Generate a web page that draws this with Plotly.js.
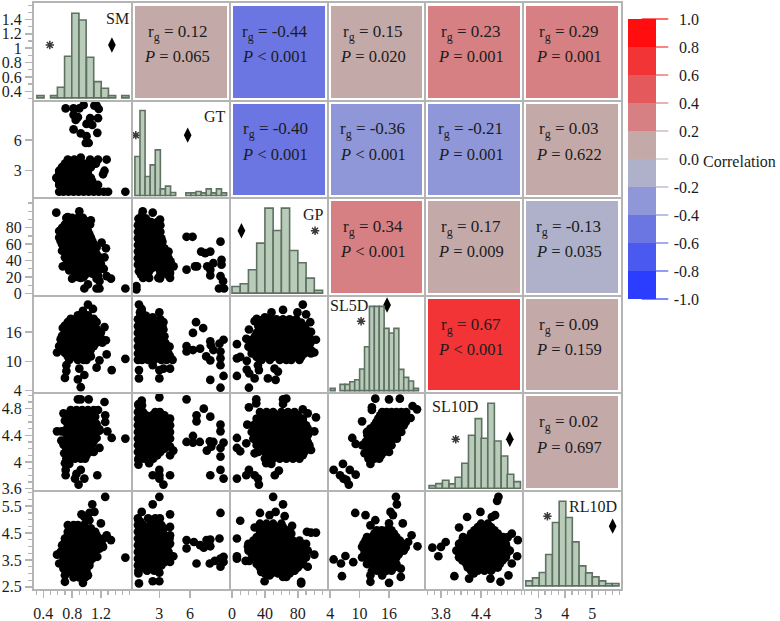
<!DOCTYPE html>
<html><head><meta charset="utf-8">
<script src="https://cdn.plot.ly/plotly-3.0.1.min.js"></script>
<style>html,body{margin:0;padding:0;background:#fff}</style></head>
<body><div id="chart" style="width:780px;height:621px"></div>
<script>
const variables = ['SM','GT','GP','SL5D','SL10D','RL10D'];
const rgValues = [[null,0.12,-0.44,0.15,0.23,0.29],[null,null,-0.401,-0.36,-0.21,0.03],[null,null,null,0.34,0.17,-0.13],[null,null,null,null,0.67,0.09],[null,null,null,null,null,0.02]];
const pLabels = [[null,'= 0.065','< 0.001','= 0.020','= 0.001','= 0.001'],[null,null,'< 0.001','< 0.001','= 0.001','= 0.622'],[null,null,null,'< 0.001','= 0.009','= 0.035'],[null,null,null,null,'< 0.001','= 0.159'],[null,null,null,null,null,'= 0.697']];
const bandColors = ['#2b3dff','#4a59f0','#6b76e3','#8f97d9','#aeb1c9','#c4a9a9','#d68083','#e45a5c','#f23437','#ff0d0f'];
const cbTicks = [1,0.8,0.6,0.4,0.2,0,-0.2,-0.4,-0.6,-0.8,-1];
const cbTickColors = ['#ff1010','#f23437','#e45a5c','#d68083','#c4a9a9','#c4c0c4','#aeb1c9','#8f97d9','#6b76e3','#4a59f0','#2b3dff'];

const axisRanges = [[0.27,1.63],[0.3,9.9],[-2.8,116],[3.45,23.4],[3.565,5.03],[2.44,6.07]];
const xTicks = [[0.4,0.8,1.2],[3,6],[0,40,80],[4,10,16],[3.8,4.4],[3,4,5]];
const xTickText = [['0.4','0.8','1.2'],['3','6'],['0','40','80'],['4','10','16'],['3.8','4.4'],['3','4','5']];
const yTicks = [[0.4,0.6,0.8,1,1.2,1.4],[3,6],[0,20,40,60,80],[4,10,16],[3.6,4,4.4,4.8],[2.5,3.5,4.5,5.5]];
const yTickText = [['0.4','0.6','0.8','1','1.2','1.4'],['3','6'],['0','20','40','60','80'],['4','10','16'],['3.6','4','4.4','4.8'],['2.5','3.5','4.5','5.5']];
const minorSteps = [0.1,null,10,null,0.1,0.25];

const histCenters = [
 [0.36,0.55,0.645,0.745,0.845,0.945,1.05,1.155,1.255,1.355,1.54],
 [0.85,1.35,1.85,2.35,2.85,3.35,3.85,4.35,5.85,6.35,6.85,7.35,7.85,8.35,8.85,9.35],
 [5,15,25,35,45,55,65,75,85,95,105],
 [4.5,6.5,7.5,8.5,9.5,10.5,11.5,12.5,13.5,14.5,15.5,16.5,17.5,18.5,19.5,20.5,21.5],
 [3.67,3.77,3.87,3.97,4.06,4.16,4.26,4.36,4.45,4.55,4.65,4.75,4.84,4.94],
 [2.66,2.91,3.16,3.40,3.65,3.90,4.14,4.39,4.64,4.88,5.13,5.38,5.62,5.87]];
const histHeights = [
 [7,7,32,125,254,234,122,49,29,7,7],
 [117,255,57,92,137,20,28,9,8,8,12,8,20,8,20,8],
 [20,28,70,150,255,188,255,128,91,45,8],
 [7,19,19,27,33,65,132,253,253,253,187,173,187,64,40,29,7],
 [8,14,24,13,33,75,159,209,150,255,142,97,42,20],
 [15,24,40,94,190,254,205,132,60,39,27,15,7,7]];
const histWidths = [0.1,0.5,10,1,0.098,0.247];

const asteriskPts = [[0.49,1.044],[0.69,6.5],[100.9,76.4],[10.3,18.2],[4.02,4.34],[3.34,5.13]];
const diamondPts = [[1.353,1.044],[5.78,6.5],[11.5,76.4],[15.6,21.5],[4.83,4.34],[5.76,4.76]];

const rows = list => list.flatMap(([y,xs]) => xs.map(x => [x,y]));

const GT_SM = [[.71,9.13],[.82,9.13],[.9,9.13],[.96,9.47],[1.11,9.4],[1.17,9.07],[1.14,9.4],[.82,8.5],[.88,8.27],[.85,8],[1.05,8.17],[1.16,8.17],[1,7.6],[1.08,7.5],[.82,7.07],[.92,6.67],[1,6.4],[1.15,6.73],[.99,5.73],[1.03,5.73],
[.62,.93],[.68,.93],[.75,.93],[.82,.93],[.89,.93],[.96,.93],[1.03,.93],[1.1,.93],[1.17,.93],[1.24,.93],[1.3,.93],[1.54,.93],
[.62,1.6],[.7,1.6],[.78,1.6],[.86,1.6],[.94,1.6],[1.02,1.6],[1.1,1.6],[1.16,1.6],
[.58,2.3],[.66,2.3],[.74,2.3],[.82,2.3],[.9,2.3],[.98,2.3],[1.06,2.3],[1.23,2.65],
[.62,3],[.7,3],[.78,3],[.86,3],[.94,3],[1.02,3],[1.25,3],
[.7,3.7],[.8,3.7],[.88,3.7],[.96,3.7],[1.04,3.7],[1.13,3.7],
[.74,4.1],[.83,4.1],[.92,4.3],[1.05,4.1],[1.16,4.1],[1.28,4.1],
...rows([[1.27,[.66,.74,.82,.9,.98,1.06,1.12]],[1.95,[.62,.7,.78,.86,.94,1.02,1.08]],[2.65,[.62,.7,.78,.86,.94,1.02]],[3.35,[.66,.74,.82,.9,.98,1.06]]])];
const GP_SM = [[.58,98.4],[.9,100],[.74,93],[1.06,89],
[.72,92],[.8,92],[.88,92],[.95,92],
[.7,84],[.76,84],[.84,84],[.92,84],[1,84],[1.05,84],
[.62,76],[.7,76],[.78,76],[.86,76],[.94,76],[1.02,76],
[.62,68],[.68,68],[.76,68],[.84,68],[.92,68],[1,68],[1.06,68],
[.66,60],[.72,60],[.8,60],[.88,60],[.96,60],[1.04,60],[1.1,60],[1.21,62],
[.66,52],[.72,52],[.8,52],[.88,52],[.96,52],[1.04,52],[1.1,52],[1.27,55],
[.7,44],[.78,44],[.86,44],[.94,44],[1.02,44],[1.1,44],[1.18,44],[1.25,44],
[.67,33],[.72,36],[.8,36],[.88,36],[.96,36],[1.04,36],[1.12,36],[1.2,36],
[.76,28],[.84,28],[.92,28],[1,28],[1.08,28],[1.16,28],
[.8,18],[.88,20],[.96,20],[.92,19],
[1.24,30],[1.16,22],[1.14,18],[1.28,21],[1.34,18],[1.18,15],[1.02,11],[.97,6],[1.14,6],[1.18,6],[1.54,6],
...rows([[88,[.76,.84,.92,.99]],[80,[.66,.74,.82,.9,.98]],[72,[.66,.72,.8,.88,.96,1.04]],[64,[.64,.7,.78,.86,.94,1.02,1.08]],[56,[.68,.76,.84,.92,1,1.08,1.14]],[48,[.72,.82,.9,.98,1.06,1.14]],[40,[.74,.82,.9,.98,1.06,1.14]],[32,[.78,.86,.94,1.02,1.1]],[24,[.84,.92,1,1.08]]])];
const SL5D_SM = [[1.02,21.6],[.95,20.3],[1.09,20.7],[.67,16.8],[1.25,17],[1.27,14.3],[.59,11.8],[1.28,11.4],[1.54,10.5],[1.35,8.2],[1.18,10.2],[1.14,8.7],[.72,9.2],[.7,6.6],[.72,8],[.88,6.3],[.97,7.2],[.92,4.7],[.9,8.5],
[.88,19.4],[.96,19.4],[1.02,19.4],
[.78,18.7],[.86,18.7],[.94,18.7],[1.02,18.7],[1.1,18.7],
[.74,18],[.82,18],[.9,18],[.98,18],[1.06,18],[1.14,18],
[.7,17.3],[.78,17.3],[.86,17.3],[.94,17.3],[1.02,17.3],[1.1,17.3],
[.74,16.6],[.82,16.6],[.9,16.6],[.98,16.6],[1.06,16.6],[1.14,16.6],
[.7,15.9],[.78,15.9],[.86,15.9],[.94,15.9],[1.02,15.9],[1.1,15.9],[1.2,15.9],
[.66,15.2],[.74,15.2],[.82,15.2],[.9,15.2],[.98,15.2],[1.06,15.2],[1.14,15.2],
[.64,14.5],[.72,14.5],[.8,14.5],[.88,14.5],[.96,14.5],[1.04,14.5],[1.12,14.5],[1.22,14.5],
[.66,13.8],[.74,13.8],[.82,13.8],[.9,13.8],[.98,13.8],[1.06,13.8],[1.14,13.8],[1.22,13.8],
[.62,13.1],[.7,13.1],[.78,13.1],[.86,13.1],[.94,13.1],[1.02,13.1],[1.1,13.1],
[.66,12.4],[.74,12.4],[.82,12.4],[.9,12.4],[.98,12.4],[1.06,12.4],
[.7,11.7],[.78,11.7],[.86,11.7],[.94,11.7],[1.02,11.7],
[.74,11],[.82,11],[.9,11],[.98,11],[1.06,11],
[.76,10.3],[.88,10.3],[.96,10.3],[1,10.3]];
const SL10D_SM = [[.88,4.94],[.92,4.94],[1.03,4.94],[1.25,4.9],[.68,4.73],[1.26,4.7],[1.26,4.6],[.59,4.46],[.65,4.46],[1.29,4.46],[1.35,4.36],[1.54,4.35],[1.18,4.49],[.65,4.32],[.7,3.98],[.76,3.97],[.71,3.88],[.71,3.8],[.92,3.88],[.86,3.82],[1.15,3.8],[.84,3.75],[.97,3.75],[.89,3.66],[1.18,4.21],[.69,4.13],
[.78,4.78],[.86,4.78],[.94,4.78],[1.02,4.78],[1.1,4.78],[1.16,4.78],
[.72,4.68],[.8,4.68],[.88,4.68],[.96,4.68],[1.04,4.68],[1.12,4.68],
[.74,4.57],[.82,4.57],[.9,4.57],[.98,4.57],[1.06,4.57],[1.14,4.57],
[.7,4.47],[.78,4.47],[.86,4.47],[.94,4.47],[1.02,4.47],[1.1,4.47],[1.18,4.47],
[.74,4.36],[.82,4.36],[.9,4.36],[.98,4.36],[1.06,4.36],[1.14,4.36],
[.68,4.26],[.76,4.26],[.84,4.26],[.92,4.26],[1,4.26],[1.08,4.26],
[.72,4.15],[.8,4.15],[.88,4.15],[.96,4.15],[1.04,4.15],[1.1,4.15],
[.72,4.05],[.78,4.05],[.84,4.05],[.92,4.05],[.98,4.05],
...rows([[4.73,[.76,.84,.92,1,1.08]],[4.62,[.7,.78,.86,.94,1.02,1.1]],[4.52,[.74,.82,.9,.98,1.06,1.14]],[4.42,[.72,.8,.88,.96,1.04,1.12]],[4.31,[.72,.8,.88,.96,1.04,1.1]],[4.2,[.72,.8,.88,.96,1.04]],[4.1,[.76,.84,.92,1]]])];
const RL10D_SM = [[1.26,5.85],[1.08,5.57],[.93,5.2],[1.04,5.25],[1.11,5.29],[.97,5.1],[1.2,4.86],[1.04,4.98],[1.28,4.42],[1.34,4.24],[.59,3.7],[.62,3.37],[.68,3.18],[.7,2.93],[.7,2.69],[.95,2.65],[1.02,2.93],[1.54,3.59],[1.15,3.62],[1.23,3.99],
[.74,4.8],[.82,4.8],[.88,4.8],[.96,4.8],
[.74,4.55],[.8,4.55],[.88,4.55],[.96,4.55],[1.04,4.55],[1.12,4.55],
[.7,4.3],[.78,4.3],[.86,4.3],[.94,4.3],[1.02,4.3],[1.1,4.3],[1.18,4.3],[1.24,4.3],
[.66,4.05],[.74,4.05],[.82,4.05],[.9,4.05],[.98,4.05],[1.06,4.05],[1.14,4.05],[1.22,4.05],
[.64,3.8],[.72,3.8],[.8,3.8],[.88,3.8],[.96,3.8],[1.04,3.8],[1.12,3.8],
[.68,3.55],[.76,3.55],[.84,3.55],[.92,3.55],[1,3.55],[1.08,3.55],
[.72,3.3],[.8,3.3],[.88,3.3],[.96,3.3],[1.04,3.3],
[.78,3.05],[.86,3.05],[.94,3.05],[1,3.05],
[.82,2.85],[.9,2.85],[.98,2.85],
...rows([[4.68,[.78,.84,.92,1,1.06]],[4.42,[.74,.82,.9,.98,1.06,1.14]],[4.18,[.7,.78,.86,.94,1.02,1.1,1.18]],[3.92,[.7,.78,.86,.94,1.02,1.1,1.18]],[3.68,[.68,.76,.84,.92,1,1.08]],[3.42,[.72,.8,.88,.96,1.04]],[3.18,[.76,.84,.92,1]],[2.95,[.82,.9,.98]]])];
const GP_GT = [[1.37,100],[2.35,98.4],[3.07,90],
[1.3,95],[.95,91],[1.3,91],[1.7,91],
[.9,83],[1.3,83],[1.9,83],[2.5,83],[3.1,83],
[.9,75],[1.4,75],[2,75],[2.6,75],[3.1,75],
[.9,67],[1.3,67],[1.9,67],[2.5,67],[3.2,67],
[.9,59],[1.4,59],[2,59],[2.6,59],[3.2,59],
[.9,51],[1.3,51],[1.9,51],[2.5,51],[3.1,51],[3.9,51],
[.9,43],[1.4,43],[2,43],[2.6,43],[3.2,43],[3.9,43],
[.9,35],[1.3,35],[1.9,35],[2.5,35],[3.3,35],[3.9,35],[4.4,33],
[1,27],[1.4,27],[2,27],[3.1,27],[3.9,27],[3.4,27],
[1.4,19],[2,19],[2.9,19],[3.07,18.4],[4.05,19],[4.05,25],[.75,9],[.75,5],
[5.67,69],[6.26,69],[7.1,51],[7.5,49],[8,51],[9,63],[5.67,29],[6.5,33],[6.7,33],[7.7,33],[8.3,37],[9.1,41],[9.1,35],[8,29],[8,22],[9,21],[9.25,15],[8.85,6],[9.35,6],
...rows([[87,[1.1,1.6,2.2,2.8]],[79,[1.1,1.65,2.3,2.85]],[71,[1.1,1.65,2.25,2.85]],[63,[1.15,1.65,2.25,2.85,3.3]],[55,[1.15,1.65,2.25,2.85,3.5]],[47,[1.1,1.65,2.25,2.85,3.5]],[39,[1.1,1.65,2.25,2.85,3.55,4.1]],[31,[1.15,1.7,2.3,2.9]],[23,[1.2,1.7,3.1,3.8]]])];
const SL5D_GT = [[1,21.6],[1.27,20.7],[3,20],[2.35,19],[3.4,18],
[1.1,20],[1.3,20],
[.9,18.6],[1.4,18.6],[2,18.6],[3.1,18.6],
[.9,17.2],[1.4,17.2],[2,17.2],[2.6,17.2],[3.3,17.2],
[.9,15.8],[1.4,15.8],[2,15.8],[2.6,15.8],[3.2,15.8],
[.9,14.4],[1.4,14.4],[2,14.4],[2.6,14.4],[3.1,14.4],
[.9,13],[1.4,13],[2,13],[2.6,13],[3.2,13],[4,13],
[.9,11.6],[1.4,11.6],[2,11.6],[2.6,11.6],[3.3,11.6],[3.9,11.6],
[.9,10.3],[1.3,10.3],[1.9,10.3],[2.5,10.3],[3.2,10.3],[3.7,10.3],[4.3,10.3],
[1,8.2],[1,6.5],[2.35,9.2],[3,8.2],[3.4,8.5],[4.05,8.5],[3,6.5],
[6.6,18],[7.3,16.8],[6.3,15.8],[5.67,13.1],[5.67,12],[6.3,12.3],[7,12.6],[8,14.1],[8.05,13.3],[8.3,12.3],[8.9,13.6],[9.3,14.4],[9,12],[9,10.6],[9,9.2],[7.6,11],[8,10.2],[8,6.2],[9.3,7],[9,4.6],
...rows([[19.3,[1.15,1.7]],[17.9,[1.15,1.7,2.3,2.9]],[16.5,[1.15,1.7,2.3,2.9,3.4]],[15.1,[1.15,1.7,2.3,2.9,3.5]],[13.7,[1.15,1.7,2.3,2.9,3.6]],[12.3,[1.15,1.7,2.3,2.9,3.6]],[11,[1.15,1.7,2.3,2.9,3.5,4.05]]])];
const SL10D_GT = [[3,4.97],[1.27,4.92],[.95,4.87],[5.67,4.94],[7.36,4.8],[6.65,4.7],[6.65,4.61],[8,4.68],[9,4.56],[9,4.46],[6.3,4.39],[5.67,4.3],[6.3,4.29],[6.97,4.3],[7.95,4.31],[8.3,4.3],[7.66,4.17],[8.1,4.23],[9.3,4.29],[9,4.21],[9,4.08],[8,3.8],[9,3.88],[9.3,3.75],
[2.35,3.8],[3,3.88],[3,3.8],[4.05,3.8],[3.4,3.66],[3,3.75],[.95,3.96],[.95,4.03],[2,3.98],[2.4,4.05],[4.37,4.17],[4.05,4.1],[4.05,4.23],
[.95,4.85],[1.3,4.85],[.9,4.75],[1.4,4.75],[2.6,4.75],[3.05,4.75],
[.9,4.65],[1.4,4.65],[2,4.65],[2.6,4.65],[3.2,4.65],[4.05,4.65],
[.9,4.55],[1.4,4.55],[2,4.55],[2.6,4.55],[3.3,4.55],[4.05,4.55],
[.9,4.45],[1.4,4.45],[2,4.45],[2.6,4.45],[3.2,4.45],[4.05,4.45],
[.9,4.35],[1.4,4.35],[2,4.35],[2.6,4.35],[3.3,4.35],[4.05,4.35],
[.9,4.25],[1.4,4.25],[2,4.25],[2.6,4.25],[3.2,4.25],
[.9,4.15],[1.4,4.15],[2,4.15],[2.6,4.15],[3.1,4.15],
[.95,4.05],[1.5,4.05],
...rows([[4.7,[1.15,1.7,2.3,2.9,3.5]],[4.6,[1.15,1.7,2.3,2.9,3.6]],[4.5,[1.15,1.7,2.3,2.9,3.6]],[4.4,[1.15,1.7,2.3,2.9,3.6]],[4.3,[1.15,1.7,2.3,2.9,3.6]],[4.2,[1.15,1.7,2.3,2.9,3.5]],[4.1,[1.15,1.7,2.3,2.8]]])];
const RL10D_GT = [[3,5.85],[2.35,5.57],[1.27,5.29],[4.05,5.2],[9,5.25],[4.05,4.73],[.95,4.98],[4.05,4.42],[4.05,4.11],[4.37,3.64],[4.05,3.43],[.95,3],[1,2.63],[2.35,2.71],[3,2.71],[3,3.03],[1.8,3.12],
[5.67,4.24],[5.67,3.93],[6.39,4.17],[7,4.05],[7.36,3.96],[7.63,4.24],[8,4.26],[8,4.01],[8.9,4.3],[6.65,3.37],[7.95,3.37],[8.44,3.47],[9,3.55],[9.3,3.62],[9.3,3.43],[9,3.25],
[.9,5.05],[1.9,5.05],[2.6,5.05],[3.05,5.05],
[.9,4.8],[1.4,4.8],[2.1,4.8],[2.6,4.8],[3.2,4.8],
[.9,4.55],[1.4,4.55],[2,4.55],[2.6,4.55],[3.2,4.55],
[.9,4.3],[1.4,4.3],[2,4.3],[2.6,4.3],[3.2,4.3],[4,4.3],
[.9,4.05],[1.4,4.05],[2,4.05],[2.6,4.05],[3.2,4.05],[3.9,4.05],
[.9,3.8],[1.4,3.8],[2,3.8],[2.6,3.8],[3.2,3.8],[3.9,3.8],
[.9,3.55],[1.4,3.55],[2,3.55],[2.6,3.55],[3.2,3.55],[3.8,3.55],
[.9,3.3],[1.4,3.3],[2,3.3],[2.6,3.3],[3.2,3.3],
[.95,3.1],[1.8,3.1],[2.5,3.1],
...rows([[4.92,[1.15,2.3,2.85]],[4.67,[1.15,1.7,2.3,2.9,3.45]],[4.42,[1.15,1.7,2.3,2.9,3.5]],[4.17,[1.15,1.7,2.3,2.9,3.5]],[3.92,[1.15,1.7,2.3,2.9,3.55]],[3.67,[1.15,1.7,2.3,2.9,3.55]],[3.42,[1.15,1.7,2.3,2.9,3.5]],[3.2,[1.15,1.7,2.3,2.85]]])];
const SL5D_GP = [[86,21.6],[62,20.5],[48,20],[79.5,20],[90,19.6],[20.6,16.5],[95,18],[6,13.5],[17.4,14.6],[6,10.6],[10,10.9],[18,10.1],[18,8.3],[21,7.5],[6,7],[27.5,6.5],[43.6,6.5],[53,6.2],[20.6,4.6],[32.7,8.2],[31.5,9.2],[51.7,8.5],[55.8,7.9],[102,14.4],[100,11.8],[96,16],[30,18.7],[40,19],[27.5,18.2],
[38,18.6],[46,18.6],[54,18.6],[62,18.6],[70,18.6],[78,18.6],
[32,17.2],[40,17.2],[48,17.2],[56,17.2],[64,17.2],[72,17.2],[80,17.2],[88,17.2],
[30,15.8],[38,15.8],[46,15.8],[54,15.8],[62,15.8],[70,15.8],[78,15.8],[86,15.8],[94,15.8],
[24,14.4],[32,14.4],[40,14.4],[48,14.4],[56,14.4],[64,14.4],[72,14.4],[80,14.4],[88,14.4],[96,14.4],
[20,13],[28,13],[36,13],[44,13],[52,13],[60,13],[68,13],[76,13],[84,13],[92,13],
[24,11.6],[32,11.6],[40,11.6],[48,11.6],[56,11.6],[64,11.6],[72,11.6],[80,11.6],[88,11.6],[96,11.6],
[36,10.3],[46,10.3],[58,10.3],[66,10.3],[72,10.3],[82,10.3],
...rows([[17.9,[36,44,52,60,68,76,84]],[16.5,[34,42,50,58,66,74,82,90]],[15.1,[28,36,44,52,60,68,76,84,92]],[13.7,[24,32,40,48,56,64,72,80,88,95]],[12.3,[24,32,40,48,56,64,72,80,88,96]],[10.9,[30,38,50,60,68,76,84]]])];
const SL10D_GP = [[29.5,4.94],[29.5,4.88],[62,4.94],[66,4.95],[20.6,4.82],[86,4.79],[92,4.73],[102,4.67],[18.6,4.56],[100,4.46],[6,4.36],[6,4.21],[10,4.16],[17.4,4.28],[27.5,4.13],[41.6,3.98],[47.7,3.97],[57,3.87],[52,3.8],[20.6,3.88],[17.4,3.8],[27.5,3.8],[31.5,3.75],[6,3.75],[32.7,3.66],[96,4.18],[62,4.87],
[34,4.75],[42,4.75],[50,4.75],[60,4.75],[68,4.75],[76,4.75],
[30,4.65],[38,4.65],[46,4.65],[54,4.65],[62,4.65],[70,4.65],[78,4.65],[86,4.65],
[26,4.55],[34,4.55],[42,4.55],[50,4.55],[58,4.55],[66,4.55],[74,4.55],[82,4.55],[90,4.55],
[24,4.45],[32,4.45],[40,4.45],[48,4.45],[56,4.45],[64,4.45],[72,4.45],[80,4.45],[88,4.45],[94,4.45],
[26,4.35],[34,4.35],[42,4.35],[50,4.35],[58,4.35],[66,4.35],[74,4.35],[82,4.35],[90,4.35],
[30,4.25],[38,4.25],[46,4.25],[54,4.25],[62,4.25],[70,4.25],[78,4.25],[86,4.25],[94,4.25],
[32,4.15],[40,4.15],[48,4.15],[56,4.15],[64,4.15],[72,4.15],[80,4.15],[88,4.15],
[40,4.05],[50,4.05],[58,4.05],[66,4.05],[74,4.05],[82,4.05],
...rows([[4.7,[38,46,54,64,72,80]],[4.6,[30,38,46,54,62,70,78,86]],[4.5,[28,36,44,52,60,68,76,84,92]],[4.4,[28,36,44,52,60,68,76,84,92]],[4.3,[30,38,46,54,62,70,78,86,92]],[4.2,[34,42,50,58,66,74,82,90]],[4.1,[44,54,62,70,78,86]]])];
const RL10D_GP = [[50,5.85],[62,5.57],[10,4.96],[34,5.25],[45.6,5.17],[53,5.29],[64,5.13],[73,4.77],[27.5,4.71],[91,4.55],[96,4.52],[102,4.52],[6,4.3],[6,3.64],[6,3.55],[16.6,3.47],[21,3.47],[100,3.7],[92,3.25],[39.6,2.71],[45.6,2.93],[62,2.87],[66,2.87],[84,2.69],[84,2.63],[76,3.1],[35.5,3.06],[19.4,4],
[34,4.85],[42,4.85],[50,4.85],[60,4.85],
[34,4.6],[42,4.6],[50,4.6],[58,4.6],[66,4.6],
[30,4.35],[38,4.35],[46,4.35],[54,4.35],[62,4.35],[70,4.35],
[20,4.1],[28,4.1],[36,4.1],[44,4.1],[52,4.1],[60,4.1],[68,4.1],[76,4.1],[84,4.1],[90,4.1],
[20,3.85],[28,3.85],[36,3.85],[44,3.85],[52,3.85],[60,3.85],[68,3.85],[76,3.85],[84,3.85],[92,3.85],
[28,3.6],[36,3.6],[44,3.6],[52,3.6],[60,3.6],[68,3.6],[76,3.6],[84,3.6],[90,3.6],
[30,3.35],[38,3.35],[46,3.35],[54,3.35],[62,3.35],[70,3.35],[78,3.35],[86,3.35],
[36,3.1],[44,3.1],[52,3.1],[60,3.1],[68,3.1],[74,3.1],
...rows([[4.72,[38,46,54,62]],[4.48,[34,42,50,58,66,72]],[4.22,[26,34,42,50,58,66,74,82]],[3.97,[24,32,40,48,56,64,72,80,88]],[3.72,[24,32,40,48,56,64,72,80,88]],[3.48,[32,40,48,56,64,72,80,86]],[3.22,[34,42,50,58,66,74,80]],[3,[40,48,56,64,70]]])];
const SL10D_SL5D = [[13.2,4.95],[16,4.94],[18.2,4.95],[12.5,4.82],[12.5,4.78],[21.7,4.79],[20.8,4.84],[20.4,4.66],[10.5,4.61],[8.5,4.36],[9.2,4.27],[11,4.13],[12.2,3.97],[4.7,3.88],[6.6,3.97],[6,3.8],[6.7,3.75],[8,3.88],[9.2,3.81],[7.8,3.66],[7.3,3.73],
[14.6,4.75],[15.5,4.75],[16.5,4.75],[17.5,4.75],[18.5,4.75],[19.5,4.75],
[13.8,4.65],[14.8,4.65],[15.8,4.65],[16.8,4.65],[17.8,4.65],[18.8,4.65],[19.8,4.65],
[13,4.55],[14,4.55],[15,4.55],[16,4.55],[17,4.55],[18,4.55],[19,4.55],
[11.5,4.45],[12.5,4.45],[13.5,4.45],[14.5,4.45],[15.5,4.45],[16.5,4.45],[17.5,4.45],[18.5,4.45],
[11.8,4.35],[12.8,4.35],[13.8,4.35],[14.8,4.35],[15.8,4.35],[16.8,4.35],[17.6,4.35],
[10.5,4.25],[11.5,4.25],[12.5,4.25],[13.5,4.25],[14.5,4.25],[15.5,4.25],[16.5,4.25],
[12,4.15],[13,4.15],[14,4.15],[15,4.15],[16,4.15],
[11.8,4.05],[13,4.05],[14,4.05],
...rows([[4.7,[14.2,15.2,16.2,17.2,18.2,19.2]],[4.6,[13.4,14.4,15.4,16.4,17.4,18.4,19.4]],[4.5,[12.2,13.2,14.2,15.2,16.2,17.2,18.2]],[4.4,[11.6,12.6,13.6,14.6,15.6,16.6,17.6]],[4.3,[11.2,12.2,13.2,14.2,15.2,16.2]],[4.2,[11.6,12.6,13.6,14.6,15.6]],[4.1,[12.4,13.4,14.4]]])];
const RL10D_SL5D = [[17.4,5.85],[17.6,5.57],[9.1,5.25],[11.2,5.17],[16.3,5.29],[16.8,5.17],[18.8,4.86],[16,4.86],[13.2,4.98],[12.2,4.79],[20.6,4.42],[19.9,4.17],[21.8,4.01],[4.7,3.52],[6.2,3.37],[7.1,3.65],[8.7,3.42],[6.4,2.9],[12.2,2.93],[12.2,2.69],[16,2.65],[14.6,2.93],[18.4,2.87],[18.4,3.18],[10.5,3.6],[10.5,3.99],
[13.5,4.6],[14.5,4.6],[15.5,4.6],[16.5,4.6],
[11.5,4.35],[12.5,4.35],[13.5,4.35],[14.5,4.35],[15.5,4.35],[16.5,4.35],[17.5,4.35],
[10.8,4.1],[11.8,4.1],[12.8,4.1],[13.8,4.1],[14.8,4.1],[15.8,4.1],[16.8,4.1],[17.8,4.1],[18.8,4.1],
[11,3.85],[12,3.85],[13,3.85],[14,3.85],[15,3.85],[16,3.85],[17,3.85],[18,3.85],[19,3.85],
[11.5,3.6],[12.5,3.6],[13.5,3.6],[14.5,3.6],[15.5,3.6],[16.5,3.6],[17.5,3.6],
[11.5,3.35],[12.5,3.35],[13.5,3.35],[14.5,3.35],[15.5,3.35],[16.5,3.35],[17.5,3.35],
[12.5,3.1],[13.5,3.1],[14.5,3.1],[15.5,3.1],[16.5,3.1],
...rows([[4.48,[13,14,15,16,17]],[4.22,[11.2,12.2,13.2,14.2,15.2,16.2,17.2,18.2]],[3.97,[11.4,12.4,13.4,14.4,15.4,16.4,17.4,18.4,19.4]],[3.72,[11,12,13,14,15,16,17,18]],[3.48,[12,13,14,15,16,17]],[3.22,[13,14,15,16,17]]])];
const RL10D_SL10D = [[4.66,5.85],[4.64,5.7],[4.39,5.29],[4.56,5.1],[4.19,5.1],[4.07,4.71],[4.61,5.17],[4.86,4.48],[4.95,4.24],[3.87,4.17],[3.67,3.96],[3.8,3.99],[3.76,3.64],[4,2.9],[4.22,2.81],[4.29,3],[4.54,2.81],[4.69,2.69],[4.81,2.93],[4.94,3.64],[4.86,3.37],
[4.4,4.85],[4.5,4.85],
[4.3,4.6],[4.4,4.6],[4.5,4.6],[4.6,4.6],
[4.13,4.35],[4.23,4.35],[4.33,4.35],[4.43,4.35],[4.53,4.35],[4.63,4.35],[4.73,4.35],[4.8,4.35],
[4.07,4.1],[4.17,4.1],[4.27,4.1],[4.37,4.1],[4.47,4.1],[4.57,4.1],[4.67,4.1],[4.77,4.1],
[4.03,3.85],[4.13,3.85],[4.23,3.85],[4.33,3.85],[4.43,3.85],[4.53,3.85],[4.63,3.85],[4.73,3.85],[4.83,3.85],
[4.07,3.6],[4.17,3.6],[4.27,3.6],[4.37,3.6],[4.47,3.6],[4.57,3.6],[4.67,3.6],[4.77,3.6],
[4.18,3.35],[4.28,3.35],[4.38,3.35],[4.48,3.35],[4.58,3.35],[4.68,3.35],
[4.25,3.1],[4.35,3.1],[4.45,3.1],[4.55,3.1],
...rows([[4.72,[4.35,4.45,4.55]],[4.48,[4.25,4.35,4.45,4.55,4.65]],[4.22,[4.12,4.22,4.32,4.42,4.52,4.62,4.72]],[3.97,[4.08,4.18,4.28,4.38,4.48,4.58,4.68,4.78]],[3.72,[4.08,4.18,4.28,4.38,4.48,4.58,4.68,4.78]],[3.48,[4.12,4.22,4.32,4.42,4.52,4.62,4.72]],[3.22,[4.2,4.3,4.4,4.5,4.6,4.65]]])];
const scatterPanels = [[1,0,GT_SM],[2,0,GP_SM],[3,0,SL5D_SM],[4,0,SL10D_SM],[5,0,RL10D_SM],[2,1,GP_GT],[3,1,SL5D_GT],[4,1,SL10D_GT],[5,1,RL10D_GT],[3,2,SL5D_GP],[4,2,SL10D_GP],[5,2,RL10D_GP],[4,3,SL10D_SL5D],[5,3,RL10D_SL5D],[5,4,RL10D_SL10D]];

// variable-name label offsets (axis fractions within their own panel)
const labelPos = [[0.85,0.84],[0.855,0.84],[0.86,0.83],[0.22,0.9],[0.3,0.87],[0.71,0.84]];

const W=780,H=621,L=34,R=621,T=3,B=588.5,N=6;
const font='"Liberation Serif","Times New Roman",serif', ink='#1c1c1c', grey='#b4b4b4';
const cw=(R-L)/N, ch=(B-T)/N;
const xd=j=>[(L+j*cw)/W,(L+(j+1)*cw)/W];
const yd=i=>[1-(T+(i+1)*ch)/H,1-(T+i*ch)/H];
const stepped=[]; bandColors.forEach((c,k)=>{stepped.push([k/10,c]);stepped.push([(k+1)/10,c]);});

const layout={width:W,height:H,margin:{l:0,r:0,t:0,b:0},paper_bgcolor:'#fff',plot_bgcolor:'rgba(0,0,0,0)',showlegend:false,
  font:{family:font,size:16,color:ink},annotations:[]};
const idx=[...Array(N).keys()];
idx.forEach(j=>{
  const ax={domain:xd(j),range:axisRanges[j],anchor:'y6',side:'bottom',tickmode:'array',tickvals:xTicks[j],ticktext:xTickText[j],
    ticks:'outside',ticklen:8,tickwidth:1.5,tickcolor:grey,ticklabelstandoff:2,showgrid:false,zeroline:false,showline:false,tickfont:{family:font,size:16,color:ink},tickangle:0};
  if(minorSteps[j]) ax.minor={ticks:'outside',ticklen:5,tickwidth:1.2,tickcolor:grey,tick0:xTicks[j][0],dtick:minorSteps[j],showgrid:false};
  layout['xaxis'+(j+1)]=ax;
  const ay={domain:yd(j),range:axisRanges[j],anchor:'x1',side:'left',tickmode:'array',tickvals:yTicks[j],ticktext:yTickText[j],
    ticks:'outside',ticklen:8,tickwidth:1.5,tickcolor:grey,showgrid:false,zeroline:false,showline:false,tickfont:{family:font,size:16,color:ink}};
  if(minorSteps[j]) ay.minor={ticks:'outside',ticklen:5,tickwidth:1.2,tickcolor:grey,tick0:yTicks[j][0],dtick:minorSteps[j],showgrid:false};
  layout['yaxis'+(j+1)]=ay;
  layout['yaxis'+(j+7)]={domain:yd(j),range:[-8,285],anchor:'x'+(j+1),visible:false,fixedrange:true};
});
// matrix frame + correlation cells
layout.xaxis7={domain:[L/W,R/W],range:[-0.5,5.5],anchor:'y13',tickmode:'array',tickvals:[0.5,1.5,2.5,3.5,4.5],showticklabels:false,ticks:'',showgrid:true,gridcolor:grey,gridwidth:2,zeroline:false,showline:true,mirror:true,linecolor:grey,linewidth:2};
layout.yaxis13={domain:[1-B/H,1-T/H],range:[5.5,-0.5],anchor:'x7',tickmode:'array',tickvals:[0.5,1.5,2.5,3.5,4.5],showticklabels:false,ticks:'',showgrid:true,gridcolor:grey,gridwidth:2,zeroline:false,showline:true,mirror:true,linecolor:grey,linewidth:2};
// colour-bar tick marks
layout.xaxis8={domain:[645/W,665/W],range:[0,1],anchor:'y14',visible:false};
layout.yaxis14={domain:[1-299/H,1-19/H],range:[-1,1],anchor:'x8',visible:false};

const traces=[];
const z=idx.map(r=>idx.map(c=>(rgValues[r]&&rgValues[r][c]!=null)?rgValues[r][c]:null));
traces.push({type:'heatmap',x:idx,y:idx,z:z,xaxis:'x7',yaxis:'y13',zmin:-1,zmax:1,colorscale:stepped,xgap:6,ygap:6,hoverongaps:false,
  colorbar:{x:627.7/W,xanchor:'left',y:1-19/H,yanchor:'top',len:280/H,lenmode:'fraction',thickness:27.5,thicknessmode:'pixels',xpad:0,ypad:0,outlinewidth:0,
    tickmode:'array',tickvals:cbTicks,ticktext:cbTicks.map(v=>(v<0?'-':'\u2004')+Math.abs(v).toFixed(1)),ticks:'outside',ticklen:15,tickcolor:'rgba(0,0,0,0)',tickfont:{family:font,size:16,color:ink}}});
traces.push({type:'scatter',mode:'markers',x:cbTicks.map(()=>0.5),y:cbTicks,xaxis:'x8',yaxis:'y14',cliponaxis:false,hoverinfo:'skip',
  marker:{symbol:'line-ew',size:19,line:{width:1.2,color:cbTickColors}}});
idx.forEach(j=>{
  traces.push({type:'bar',x:histCenters[j],y:histHeights[j],width:histWidths[j],xaxis:'x'+(j+1),yaxis:'y'+(j+7),
    marker:{color:'#b9ccba',line:{color:'#5f7162',width:1.6}}});
  traces.push({type:'scatter',mode:'markers',x:[asteriskPts[j][0]],y:[asteriskPts[j][1]],xaxis:'x'+(j+1),yaxis:'y'+(j+1),
    marker:{symbol:'asterisk-open',size:7,color:'#3a3a3a',line:{color:'#3a3a3a',width:1.5}}});
  traces.push({type:'scatter',mode:'markers',x:[diamondPts[j][0]],y:[diamondPts[j][1]],xaxis:'x'+(j+1),yaxis:'y'+(j+1),
    marker:{symbol:'diamond-tall',size:11,color:'#000'}});
  layout.annotations.push({text:variables[j],xref:'x'+(j+1)+' domain',yref:'y'+(j+1)+' domain',x:labelPos[j][0],y:labelPos[j][1],xanchor:'center',yanchor:'middle',showarrow:false,font:{family:font,size:16,color:ink}});
});
scatterPanels.forEach(([r,c,pts])=>{
  traces.push({type:'scatter',mode:'markers',x:pts.map(p=>p[0]),y:pts.map(p=>p[1]),xaxis:'x'+(c+1),yaxis:'y'+(r+1),
    marker:{color:'#000',size:8.7,line:{width:0}}});
});
rgValues.forEach((row,r)=>row.forEach((v,c)=>{
  if(v==null)return;
  layout.annotations.push({xref:'x7',yref:'y13',x:c,y:r,xshift:-3.5,yshift:19,showarrow:false,xanchor:'center',yanchor:'middle',
    text:'r<sub>g</sub> = '+v.toFixed(2),font:{family:font,size:17,color:ink}});
  layout.annotations.push({xref:'x7',yref:'y13',x:c,y:r,xshift:-3.5,yshift:-5,showarrow:false,xanchor:'center',yanchor:'middle',
    text:'<i>P</i> '+pLabels[r][c],font:{family:font,size:16.5,color:ink}});
}));
layout.annotations.push({text:'Correlation',xref:'paper',yref:'paper',x:701/W,y:1-161/H,xanchor:'left',yanchor:'middle',showarrow:false,font:{family:font,size:16,color:ink}});
Plotly.newPlot('chart',traces,layout,{staticPlot:true,displayModeBar:false});
</script></body></html>
